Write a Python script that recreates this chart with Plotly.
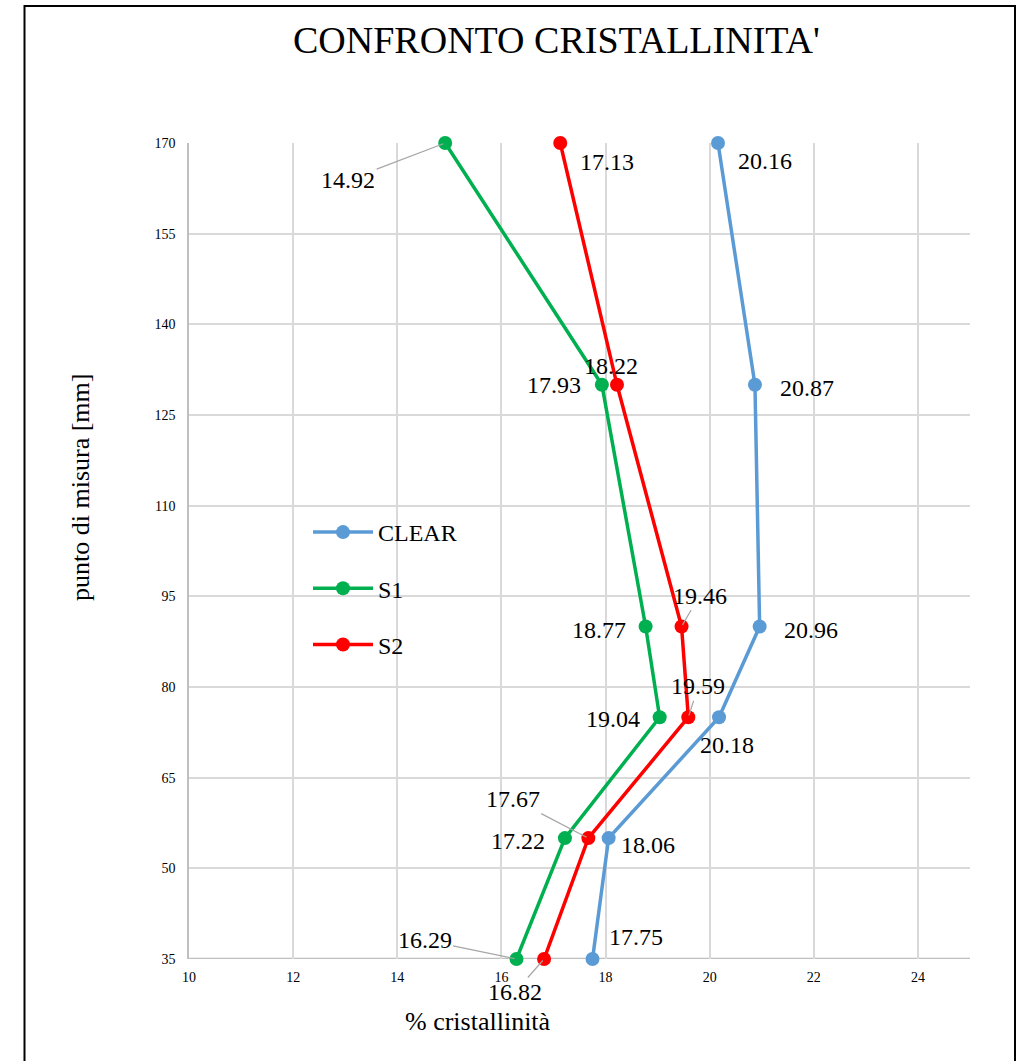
import plotly.graph_objects as go

# Measurement positions along the sample [mm]
positions = [35, 55, 75, 90, 130, 170]

# Crystallinity [%] for each material
clear_vals = [17.75, 18.06, 20.18, 20.96, 20.87, 20.16]
s1_vals = [16.29, 17.22, 19.04, 18.77, 17.93, 14.92]
s2_vals = [16.82, 17.67, 19.59, 19.46, 18.22, 17.13]

series_names = ["CLEAR", "S1", "S2"]
series_values = [clear_vals, s1_vals, s2_vals]
series_colors = ["#5B9BD5", "#00B050", "#FF0000"]

# Label placement (pixel offsets from each point) and whether a leader line is drawn
label_style = {
    "CLEAR": [(43, -22, False), (39, 7, False), (8, 28, False), (51, 3, False), (52, 3, False), (47, 18, False)],
    "S1": [(-92, -19, True), (-47, 3, False), (-47, 2, False), (-47, 3, False), (-48, 0, False), (-97, 37, True)],
    "S2": [(-29, 33, True), (-75, -39, True), (10, -31, True), (18, -31, True), (-6, -19, False), (47, 19, False)],
}

FONT = "Liberation Serif"
W, H = 1017, 1061
L, R, T, B = 189, 47, 143, 102
pw, ph = W - L - R, H - T - B

fig = go.Figure()
for name, vals, col in zip(series_names, series_values, series_colors):
    fig.add_trace(go.Scatter(
        x=vals, y=positions, name=name, mode="lines+markers",
        line=dict(color=col, width=3.5),
        marker=dict(color=col, size=14),
        legendgroup=name, cliponaxis=False,
    ))

annotations = []
for name, vals in zip(series_names, series_values):
    for xv, yv, (dx, dy, leader) in zip(vals, positions, label_style[name]):
        txt = f"{xv:.2f}"
        if leader:
            annotations.append(dict(
                x=xv, y=yv, xref="x", yref="y", text=txt, showarrow=True,
                ax=dx, ay=dy, arrowhead=0, arrowwidth=1.2, arrowcolor="#A6A6A6",
                standoff=2, font=dict(family=FONT, size=24, color="black"),
            ))
        else:
            annotations.append(dict(
                x=xv, y=yv, xref="x", yref="y", text=txt, showarrow=False,
                xanchor="center", yanchor="middle",
                xshift=dx, yshift=-dy, font=dict(family=FONT, size=24, color="black"),
            ))


def paper_x(px):
    return (px - L) / pw


def paper_y(py):
    return (H - B - py) / ph


# Axis titles and chart title
annotations.append(dict(
    text="% cristallinità", x=paper_x(478), y=paper_y(1021),
    xref="paper", yref="paper", showarrow=False, xanchor="center", yanchor="middle",
    font=dict(family=FONT, size=26, color="black"),
))
annotations.append(dict(
    text="punto di misura [mm]", x=paper_x(80), y=paper_y(488),
    xref="paper", yref="paper", showarrow=False, textangle=-90,
    xanchor="center", yanchor="middle",
    font=dict(family=FONT, size=26, color="black"),
))
annotations.append(dict(
    text="CONFRONTO CRISTALLINITA'", x=paper_x(556), y=paper_y(40),
    xref="paper", yref="paper", showarrow=False, xanchor="center", yanchor="middle",
    font=dict(family=FONT, size=38, color="black"),
))

fig.update_layout(
    width=W, height=H,
    margin=dict(l=L, r=R, t=T, b=B),
    paper_bgcolor="white", plot_bgcolor="white",
    annotations=annotations,
    showlegend=True,
    legend=dict(
        x=paper_x(308), y=paper_y(510), xanchor="left", yanchor="top",
        bgcolor="rgba(0,0,0,0)", font=dict(family=FONT, size=24, color="black"),
        itemwidth=60, tracegroupgap=22, traceorder="grouped",
    ),
    shapes=[dict(
        type="rect", xref="paper", yref="paper",
        x0=paper_x(24.5), x1=paper_x(1015),
        y0=paper_y(1075), y1=paper_y(6),
        line=dict(color="black", width=2), layer="below",
    )],
)

fig.update_xaxes(
    range=[10, 25], tick0=10, dtick=2, showgrid=True, gridcolor="#D9D9D9", gridwidth=1.5,
    zeroline=False, showline=False, ticks="", ticklabelstandoff=8,
    tickfont=dict(family=FONT, size=14, color="black"),
)
fig.update_yaxes(
    range=[35, 170], tick0=35, dtick=15, showgrid=True, gridcolor="#D9D9D9", gridwidth=1.5,
    zeroline=False, showline=True, linecolor="#BFBFBF", linewidth=1.5, mirror=False,
    ticks="", ticklabelstandoff=9,
    tickfont=dict(family=FONT, size=14, color="black"),
)
# Horizontal axis line along the bottom of the plot
fig.add_shape(type="line", xref="paper", yref="y", x0=0, x1=1, y0=35, y1=35,
              line=dict(color="#BFBFBF", width=2.5), layer="below")

fig.write_html("out.html")
